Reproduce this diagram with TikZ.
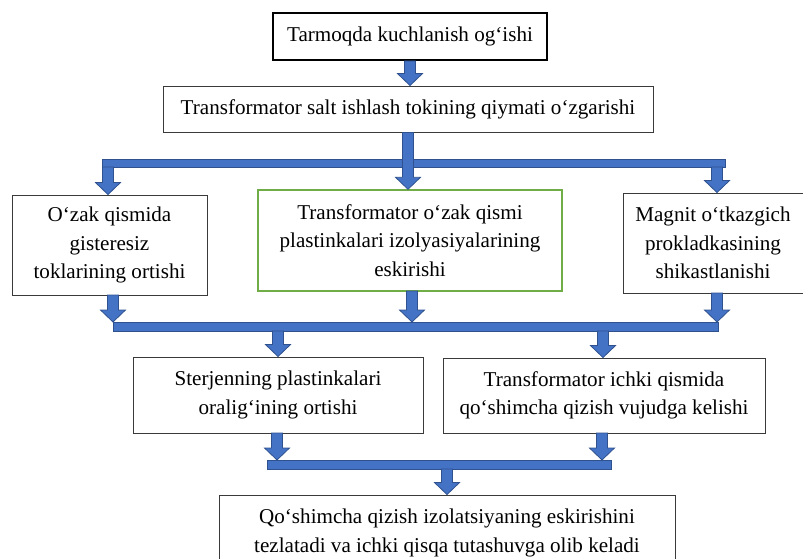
\documentclass[tikz,border=0pt]{standalone}
\usepackage{fontspec}
\setmainfont{Liberation Serif}
\usetikzlibrary{calc}
\definecolor{afill}{HTML}{4472C4}
\definecolor{aline}{HTML}{2F528F}
\definecolor{gline}{HTML}{70AD47}
\definecolor{bline}{HTML}{3A3A3A}
\tikzset{
  box/.style={draw=bline, line width=0.9pt, fill=white, inner sep=0pt, align=center,
    font=\fontsize{21.1}{28.5}\selectfont},
  barrow/.style={fill=afill, draw=aline, line width=0.8pt, line join=miter},
  bar/.style={fill=afill, draw=aline, line width=0.8pt}
}
\newcommand\blockarr[2]{\path[barrow] let \p1=(#1), \p2=(#2) in
  (\x1-5.5pt,\y1) -- (\x1-5.5pt,\y2+12pt) -- (\x1-12.5pt,\y2+12pt) -- (\x1,\y2)
  -- (\x1+12.5pt,\y2+12pt) -- (\x1+5.5pt,\y2+12pt) -- (\x1+5.5pt,\y1) -- cycle;}
\begin{document}
\begin{tikzpicture}[x=1pt,y=-1pt]
\useasboundingbox (0,0) rectangle (803,559);
\begin{scope}
\clip (0,0) rectangle (803,559);
% boxes
\node[box, draw=black, line width=2pt, minimum width=274, minimum height=47] (top) at (410,36.5) {Tarmoqda kuchlanish og‘ishi};
\node[box, minimum width=490, minimum height=46] (box2) at (408,109) {Transformator salt ishlash tokining qiymati o‘zgarishi};
\node[box, minimum width=195, minimum height=100] (lbox) at (109.5,245) {O‘zak qismida\\gisteresiz\\toklarining ortishi};
\node[box, draw=gline, line width=1.4pt, minimum width=304, minimum height=101] (gbox) at (410,240.5) {Transformator o‘zak qismi\\plastinkalari izolyasiyalarining\\eskirishi};
\node[box, minimum width=180, minimum height=100] (rbox) at (713,243) {Magnit o‘tkazgich\\prokladkasining\\shikastlanishi};
\node[box, minimum width=290, minimum height=76] (mlbox) at (278,395) {Sterjenning plastinkalari\\oralig‘ining ortishi};
\node[box, minimum width=322, minimum height=75] (mrbox) at (604,395.5) {Transformator ichki qismida\\qo‘shimcha qizish vujudga kelishi};
\node[box, minimum width=456, minimum height=76] (bbox) at (447,533) {Qo‘shimcha qizish izolatsiyaning eskirishini\\tezlatadi va ichki qisqa tutashuvga olib keladi};
% bars
\coordinate (b1l) at (102,159); \coordinate (b1r) at (725,167);
\coordinate (b2l) at (113,322); \coordinate (b2r) at (718,331);
\coordinate (b3l) at (267,460); \coordinate (b3r) at (611,469);
\draw[bar] (b1l) rectangle (b1r);
\draw[bar] (b2l) rectangle (b2r);
\draw[bar] (b3l) rectangle (b3r);
% arrow start points on bars / boxes
\coordinate (a3) at (108,167);
\coordinate (a4) at (717,167);
\coordinate (a5) at (113,295);
\coordinate (a6) at (412,291);
\coordinate (a7) at (717,293);
\coordinate (a8) at (278,331);
\coordinate (a9) at (603,331);
\coordinate (a10) at (277,433);
\coordinate (a11) at (602,433);
\coordinate (a12) at (447,469);
% arrows
\blockarr{top.south}{box2.north}
\blockarr{box2.south}{gbox.north}
\blockarr{a3}{lbox.north}
\blockarr{a4}{rbox.north}
\blockarr{a5}{b2l}
\blockarr{a6}{b2l}
\blockarr{a7}{b2l}
\blockarr{a8}{mlbox.north}
\blockarr{a9}{mrbox.north}
\blockarr{a10}{b3l}
\blockarr{a11}{b3l}
\blockarr{a12}{bbox.north}
\end{scope}
\end{tikzpicture}
\end{document}
